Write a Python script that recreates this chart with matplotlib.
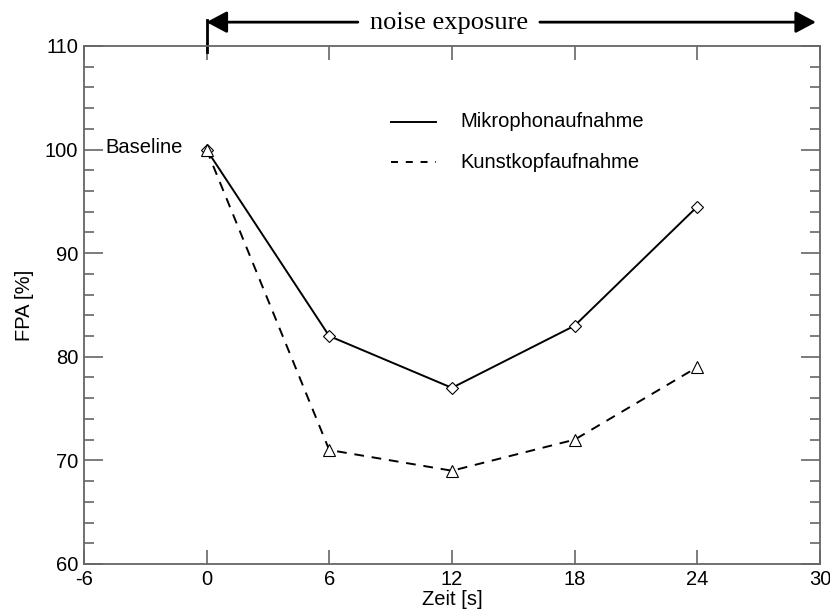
import matplotlib.pyplot as plt
from matplotlib.ticker import MultipleLocator

zeit = [0, 6, 12, 18, 24]
mikrophon = [100, 82, 77, 83, 94.5]
kunstkopf = [100, 71, 69, 72, 79]
x_ticks = [-6, 0, 6, 12, 18, 24, 30]
y_ticks = [60, 70, 80, 90, 100, 110]

plt.rcParams['font.family'] = ['Liberation Sans', 'DejaVu Sans']
FS = 14.5
DASH = (0, (5.0, 4.0))
LEG_DASH = (0, (3.6, 4.0))
SPINE = '#666666'
LW = 1.4

fig = plt.figure(figsize=(8.3, 6.13), dpi=100)
ax = fig.add_axes([0.101, 0.080, 0.887, 0.845])

ax.plot(zeit, mikrophon, color='black', linewidth=LW, marker='D', markersize=6,
        markerfacecolor='white', markeredgecolor='black', markeredgewidth=0.8)
ax.plot(zeit, kunstkopf, color='black', linewidth=LW, linestyle=DASH, marker='^',
        markersize=9, markerfacecolor='white', markeredgecolor='black', markeredgewidth=0.8)

ax.set_xlim(-6, 30)
ax.set_ylim(60, 110)
ax.set_xticks(x_ticks)
ax.set_yticks(y_ticks)
ax.set_xticklabels([str(t) for t in x_ticks])
ax.yaxis.set_minor_locator(MultipleLocator(2))
ax.tick_params(axis='x', which='major', direction='in', length=10, width=1.2,
               top=True, labelsize=FS, color=SPINE, pad=4)
ax.tick_params(axis='y', which='major', direction='in', length=14, width=1.2,
               right=True, labelsize=FS, color=SPINE, pad=4)
ax.tick_params(axis='y', which='minor', direction='in', length=7, width=1.2,
               right=True, color=SPINE)
for s in ax.spines.values():
    s.set_color(SPINE)
    s.set_linewidth(1.3)

ax.set_xlabel('Zeit [s]', fontsize=FS, labelpad=1)
ax.set_ylabel('FPA [%]', fontsize=FS, labelpad=8)

ax.text(-4.95, 100.2, 'Baseline', fontsize=FS, va='center', ha='left')

# legend drawn by hand
ax.plot([9.0, 11.2], [102.7, 102.7], color='black', linewidth=LW)
ax.plot([9.0, 11.2], [98.8, 98.8], color='black', linewidth=LW, linestyle=LEG_DASH)
ax.text(12.4, 102.7, 'Mikrophonaufnahme', fontsize=FS, va='center')
ax.text(12.4, 98.8, 'Kunstkopfaufnahme', fontsize=FS, va='center')

# noise exposure arrow above the plot
y_arrow = 112.3
head = '-|>,head_length=0.62,head_width=0.33'
ax.annotate('', xy=(0, y_arrow), xytext=(7.4, y_arrow), annotation_clip=False,
            arrowprops=dict(arrowstyle=head, color='black', lw=2, mutation_scale=20,
                            shrinkA=0, shrinkB=0))
ax.annotate('', xy=(29.8, y_arrow), xytext=(16.3, y_arrow), annotation_clip=False,
            arrowprops=dict(arrowstyle=head, color='black', lw=2, mutation_scale=20,
                            shrinkA=0, shrinkB=0))
ax.plot([0, 0], [109.4, 112.5], color='black', linewidth=2, clip_on=False)
ax.text(11.85, y_arrow - 0.05, 'noise exposure', fontsize=19, ha='center', va='center',
        family='Liberation Serif')

fig.savefig('out.png', dpi=100)
